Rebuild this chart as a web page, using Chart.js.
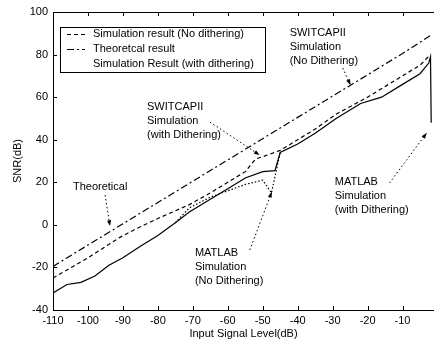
<!DOCTYPE html>
<html>
<head>
<meta charset="utf-8">
<script src="https://cdn.jsdelivr.net/npm/chart.js@4.4.0/dist/chart.umd.min.js"></script>
<style>
  html, body { margin: 0; padding: 0; background: #fff; }
  #wrap { width: 434px; height: 343px; position: relative; }
</style>
</head>
<body>
<div id="wrap"><canvas id="chart"></canvas></div>
<script>
'use strict';

// ejes
const xTicks = [-110, -100, -90, -80, -70, -60, -50, -40, -30, -20, -10];
const yTicks = [-40, -20, 0, 20, 40, 60, 80, 100];

// curva teorica
const theoryX = [-110, -100, -90, -80, -70, -60, -50, -40, -30, -20, -10, -1.5];
const theoryY = [-19.5, -9.5, 0.5, 10.5, 20.5, 30.5, 40.5, 50.5, 60.5, 70.5, 80.5, 89.5];

// simulacion sin dithering (SWITCAPII)
const noDitherX = [-110, -100, -91, -87, -80, -71, -65, -60, -55, -52, -50, -45, -40, -35, -29, -20, -10, -5, -2];
const noDitherY = [-25, -15.5, -6, -2.5, 3, 9.5, 15, 20, 25, 31, 32, 35, 40, 45, 52, 60, 70, 75, 80];

// simulacion con dithering
const ditherX = [-110, -106, -102, -98, -94, -90, -85, -80, -75, -71, -65, -60, -55, -50, -46.5, -45, -40, -35, -29, -22, -16, -10, -5, -2.5, -2, -1.8];
const ditherY = [-32, -28, -27, -24, -19, -15.5, -10, -5, 1, 6, 12, 17, 22, 25, 25.5, 34, 38, 43, 50, 57, 60, 66, 71, 76, 79, 48];

// MATLAB sin dithering (tramo punteado)
const matlabX = [-75, -71, -65, -60, -55, -50, -47.5, -45];
const matlabY = [1, 8, 13, 16, 19, 21, 15, 34];

// textos con flecha: texto en (x,y), flecha de (ax,ay) a (bx,by)
const notes = [
    { text: ['SWITCAPII', 'Simulation', '(No Dithering)'], x: -42.3, y: 90, arrow: [-27.1, 73.7, -24.9, 65.7] },
    { text: ['SWITCAPII', 'Simulation', '(with Dithering)'], x: -83.1, y: 55.4, arrow: [-65.1, 48.3, -50.9, 32.8] },
    { text: ['Theoretical'], x: -104.3, y: 17.8, arrow: [-95.1, 14, -93.7, -0.5] },
    { text: ['MATLAB', 'Simulation', '(No Dithering)'], x: -69.4, y: -13.2, arrow: [-53.7, -11.8, -47.4, 15.5] },
    { text: ['MATLAB', 'Simulation', '(with Dithering)'], x: -29.4, y: 20.2, arrow: [-13.7, 19.7, -3.1, 43.2] }
];

const FONT = "11px 'Liberation Sans', Arial, sans-serif";

function toPoints(xs, ys) {
    return xs.map((x, i) => ({ x: x, y: ys[i] }));
}

function arrowLine(ctx, x1, y1, x2, y2) {
    ctx.save();
    ctx.setLineDash([1.5, 2.5]);
    ctx.lineWidth = 1;
    ctx.beginPath();
    ctx.moveTo(x1, y1);
    ctx.lineTo(x2, y2);
    ctx.stroke();
    ctx.setLineDash([]);
    const ang = Math.atan2(y2 - y1, x2 - x1);
    ctx.beginPath();
    ctx.moveTo(x2, y2);
    ctx.lineTo(x2 - 6 * Math.cos(ang - 0.35), y2 - 6 * Math.sin(ang - 0.35));
    ctx.lineTo(x2 - 6 * Math.cos(ang + 0.35), y2 - 6 * Math.sin(ang + 0.35));
    ctx.closePath();
    ctx.fill();
    ctx.restore();
}

const extras = {
    id: 'extras',
    afterDraw(chart) {
        const ctx = chart.ctx;
        const xs = chart.scales.x, ys = chart.scales.y;
        const area = chart.chartArea;
        ctx.save();
        ctx.strokeStyle = '#000';
        ctx.fillStyle = '#000';
        ctx.lineWidth = 1;

        // borde superior
        ctx.beginPath();
        ctx.moveTo(area.left, area.top + 0.5);
        ctx.lineTo(area.right, area.top + 0.5);
        ctx.stroke();

        // ticks hacia dentro
        ctx.beginPath();
        for (let v of xTicks) {
            const px = Math.round(xs.getPixelForValue(v)) + 0.5;
            ctx.moveTo(px, area.bottom);
            ctx.lineTo(px, area.bottom - 4);
            ctx.moveTo(px, area.top);
            ctx.lineTo(px, area.top + 4);
        }
        for (let v of yTicks) {
            const py = Math.round(ys.getPixelForValue(v)) + 0.5;
            ctx.moveTo(area.left, py);
            ctx.lineTo(area.left + 4, py);
        }
        ctx.stroke();

        // leyenda
        const lx = area.left + 7, ly = area.top + 15;
        ctx.fillStyle = '#fff';
        ctx.fillRect(lx, ly, 205, 45);
        ctx.strokeRect(lx + 0.5, ly + 0.5, 205, 45);
        ctx.fillStyle = '#000';
        ctx.font = FONT;
        ctx.textBaseline = 'middle';
        chart.data.datasets.forEach((ds, i) => {
            if (ds.hideLegend) return;
            const ry = ly + 7 + i * 15;
            if (ds.legendLine) {
                ctx.setLineDash(ds.borderDash || []);
                ctx.beginPath();
                ctx.moveTo(lx + 7, ry + 0.5);
                ctx.lineTo(lx + 25, ry + 0.5);
                ctx.stroke();
                ctx.setLineDash([]);
            }
            ctx.fillText(ds.label, lx + 33, ry);
        });

        // notas
        for (let n of notes) {
            const tx = xs.getPixelForValue(n.x);
            const ty = ys.getPixelForValue(n.y);
            n.text.forEach((t, k) => ctx.fillText(t, tx, ty + k * 14));
            const a = n.arrow;
            arrowLine(ctx, xs.getPixelForValue(a[0]), ys.getPixelForValue(a[1]),
                xs.getPixelForValue(a[2]), ys.getPixelForValue(a[3]));
        }
        ctx.restore();
    }
};

function crearChart() {
    const lineBase = { borderColor: '#000', borderWidth: 1.2, pointRadius: 0, showLine: true, tension: 0, fill: false };
    const fuente = { family: "'Liberation Sans', Arial", size: 11 };
    new Chart('chart', {
        type: 'scatter',
        data: {
            datasets: [
                Object.assign({ label: 'Simulation result (No dithering)', data: toPoints(noDitherX, noDitherY), borderDash: [4, 3], legendLine: true }, lineBase),
                Object.assign({ label: 'Theoretcal result', data: toPoints(theoryX, theoryY), borderDash: [7, 3, 2, 3], legendLine: true }, lineBase),
                Object.assign({ label: 'Simulation Result (with dithering)', data: toPoints(ditherX, ditherY), borderDash: [], legendLine: false }, lineBase),
                Object.assign({ label: 'MATLAB', data: toPoints(matlabX, matlabY), borderDash: [1.5, 2], hideLegend: true }, lineBase)
            ]
        },
        options: {
            responsive: true,
            maintainAspectRatio: false,
            animation: false,
            devicePixelRatio: 1,
            layout: { padding: { top: 12, right: 0, left: 0, bottom: 0 } },
            plugins: { legend: { display: false }, tooltip: { enabled: false } },
            scales: {
                x: {
                    type: 'linear', min: -110, max: -1,
                    afterBuildTicks: s => { s.ticks = xTicks.map(v => ({ value: v })); },
                    afterFit: s => { s.height = 33; },
                    grid: { display: false, drawTicks: false },
                    border: { display: true, color: '#000', width: 1 },
                    ticks: { color: '#000', font: fuente, padding: 4, maxRotation: 0 },
                    title: { display: true, text: 'Input Signal Level(dB)', color: '#000', font: fuente, padding: { top: 0, bottom: 2 } }
                },
                y: {
                    type: 'linear', min: -40, max: 100,
                    afterBuildTicks: s => { s.ticks = yTicks.map(v => ({ value: v })); },
                    afterFit: s => { s.width = 53; },
                    grid: { display: false, drawTicks: false },
                    border: { display: true, color: '#000', width: 1 },
                    ticks: { color: '#000', font: fuente, padding: 5 },
                    title: { display: true, text: 'SNR(dB)', color: '#000', font: fuente, padding: { top: 11, bottom: 0 } }
                }
            }
        },
        plugins: [extras]
    });
}

crearChart();
</script>
</body>
</html>
